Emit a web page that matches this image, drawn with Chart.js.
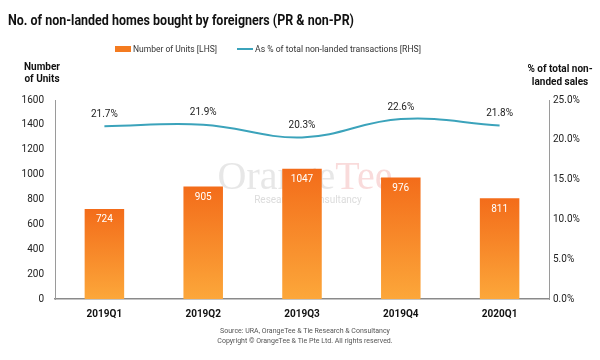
<!DOCTYPE html>
<html>
<head>
<meta charset="utf-8">
<script src="https://cdn.jsdelivr.net/npm/chart.js@4.4.1/dist/chart.umd.min.js"></script>
<style>
html,body{margin:0;padding:0;background:#fff;}
#wrap{width:600px;height:360px;position:relative;}
</style>
</head>
<body>
<div id="wrap"><canvas id="c" width="600" height="360"></canvas></div>
<script>
const categories = ['2019Q1', '2019Q2', '2019Q3', '2019Q4', '2020Q1'];
const unitsBought = [724, 905, 1047, 976, 811];
const pctOfTotal = [21.7, 21.9, 20.3, 22.6, 21.8];
const leftTickValues = [0, 200, 400, 600, 800, 1000, 1200, 1400, 1600];
const rightTickValues = [0, 5, 10, 15, 20, 25];
const titleText = 'No. of non-landed homes bought by foreigners (PR & non-PR)';
const legendLabels = ['Number of Units [LHS]', 'As % of total non-landed transactions [RHS]'];
const leftAxisTitle = ['Number', 'of Units'];
const rightAxisTitle = ['% of total non-', 'landed sales'];
const footerLines = ['Source: URA, OrangeTee & Tie Research & Consultancy', 'Copyright \u00A9 OrangeTee & Tie Pte Ltd. All rights reserved.'];

const FONT = 'Roboto, "Noto Sans", sans-serif';
const LINE_COLOR = '#3ba3bb';

const decorPlugin = {
  id: 'decor',
  beforeDatasetsDraw(chart) {
    const ctx = chart.ctx;
    const ca = chart.chartArea;
    const cx = (ca.left + ca.right) / 2;
    ctx.save();
    ctx.font = '40px "Liberation Serif", "DejaVu Serif", serif';
    ctx.textBaseline = 'alphabetic';
    ctx.textAlign = 'left';
    const w1 = ctx.measureText('Orange').width;
    const w2 = ctx.measureText('Tee').width;
    const x0 = cx - (w1 + w2) / 2 + 3;
    ctx.fillStyle = 'rgba(195,195,195,0.4)';
    ctx.fillText('Orange', x0, 189);
    ctx.fillStyle = 'rgba(240,165,165,0.4)';
    ctx.fillText('Tee', x0 + w1, 189);
    ctx.font = '10px ' + FONT;
    ctx.textAlign = 'center';
    ctx.fillStyle = 'rgba(185,185,185,0.5)';
    ctx.fillText('Research & Consultancy', cx + 6, 203);
    ctx.restore();
  },
  afterDatasetsDraw(chart) {
    const ctx = chart.ctx;
    ctx.save();
    const barMeta = chart.getDatasetMeta(0);
    ctx.font = '10px ' + FONT;
    ctx.fillStyle = '#ffffff';
    ctx.textAlign = 'center';
    ctx.textBaseline = 'middle';
    barMeta.data.forEach((el, i) => {
      ctx.fillText(String(unitsBought[i]), el.x, el.y + 11);
    });
    const lineMeta = chart.getDatasetMeta(1);
    ctx.fillStyle = '#222222';
    lineMeta.data.forEach((el, i) => {
      ctx.fillText(pctOfTotal[i].toFixed(1) + '%', el.x, el.y - 12);
    });
    ctx.restore();
  },
  afterDraw(chart) {
    const ctx = chart.ctx;
    ctx.save();
    ctx.font = 'bold 15px ' + FONT;
    ctx.fillStyle = '#111111';
    ctx.textAlign = 'left';
    ctx.textBaseline = 'middle';
    ctx.fillText(titleText, 8, 21, 346);
    ctx.font = '9.5px ' + FONT;
    ctx.fillStyle = '#f47b20';
    ctx.fillRect(115, 46, 16, 6);
    ctx.fillStyle = '#333333';
    ctx.fillText(legendLabels[0], 133, 49.5, 84);
    ctx.strokeStyle = LINE_COLOR;
    ctx.lineWidth = 2;
    ctx.beginPath();
    ctx.moveTo(237, 49);
    ctx.lineTo(253, 49);
    ctx.stroke();
    ctx.fillText(legendLabels[1], 255, 49.5, 166);
    ctx.font = 'bold 10px ' + FONT;
    ctx.fillStyle = '#111111';
    ctx.textAlign = 'center';
    ctx.fillText(leftAxisTitle[0], 42, 67);
    ctx.fillText(leftAxisTitle[1], 42, 79);
    ctx.fillText(rightAxisTitle[0], 560, 69);
    ctx.fillText(rightAxisTitle[1], 560, 82);
    ctx.font = '7px ' + FONT;
    ctx.fillStyle = '#555555';
    ctx.fillText(footerLines[0], 305, 331);
    ctx.fillText(footerLines[1], 305, 341);
    ctx.restore();
  }
};

function barGradient(context) {
  const chart = context.chart;
  const ca = chart.chartArea;
  if (!ca || context.raw === undefined) return '#f58a26';
  const yTop = chart.scales.y.getPixelForValue(context.raw);
  const g = chart.ctx.createLinearGradient(0, yTop, 0, ca.bottom);
  g.addColorStop(0, '#f36c1a');
  g.addColorStop(1, '#fca73a');
  return g;
}

new Chart(document.getElementById('c'), {
  data: {
    labels: categories,
    datasets: [
      {
        type: 'bar',
        label: legendLabels[0],
        data: unitsBought,
        yAxisID: 'y',
        backgroundColor: barGradient,
        borderWidth: 0,
        barPercentage: 0.8,
        categoryPercentage: 0.5,
        order: 2
      },
      {
        type: 'line',
        label: legendLabels[1],
        data: pctOfTotal,
        yAxisID: 'y1',
        borderColor: LINE_COLOR,
        borderWidth: 2,
        pointRadius: 0,
        tension: 0.4,
        fill: false,
        order: 1
      }
    ]
  },
  options: {
    responsive: false,
    animation: false,
    layout: { padding: { top: 100, left: 0, right: 0, bottom: 0 } },
    plugins: {
      legend: { display: false },
      title: { display: false },
      tooltip: { enabled: false }
    },
    scales: {
      x: {
        grid: { display: false, drawTicks: false },
        border: { display: true, color: '#8a8a8a', width: 1.5 },
        ticks: { padding: 9, color: '#111', font: { family: FONT, size: 10, weight: 'bold' } },
        afterFit(s) { s.height = 61; }
      },
      y: {
        position: 'left',
        min: 0,
        max: 1600,
        afterBuildTicks(s) { s.ticks = leftTickValues.map(v => ({ value: v })); },
        grid: { display: false, drawTicks: false },
        border: { display: true, color: '#9a9a9a', width: 1 },
        ticks: { padding: 11, color: '#222', font: { family: FONT, size: 10 }, callback: v => String(v) },
        afterFit(s) { s.width = 55; }
      },
      y1: {
        position: 'right',
        min: 0,
        max: 25,
        afterBuildTicks(s) { s.ticks = rightTickValues.map(v => ({ value: v })); },
        grid: { display: false, drawTicks: false },
        border: { display: true, color: '#9a9a9a', width: 1 },
        ticks: { padding: 4, color: '#222', font: { family: FONT, size: 10 }, callback: v => Number(v).toFixed(1) + '%' },
        afterFit(s) { s.width = 51; }
      }
    }
  },
  plugins: [decorPlugin]
});
</script>
</body>
</html>
